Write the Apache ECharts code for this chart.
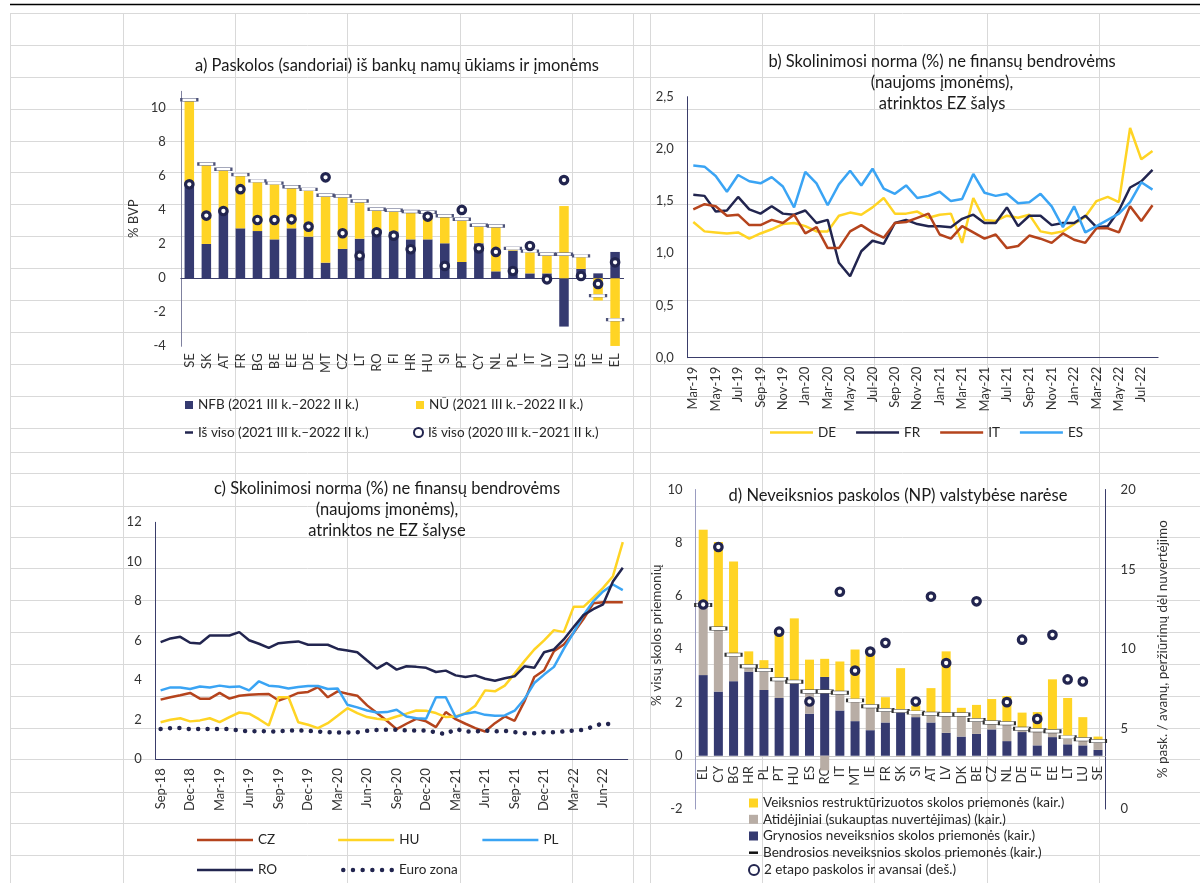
<!DOCTYPE html>
<html>
<head>
<meta charset="utf-8">
<script src="https://cdn.jsdelivr.net/npm/echarts@6/dist/echarts.min.js"></script>
<style>
  html, body { margin: 0; padding: 0; background: #fff; }
  #main { width: 1200px; height: 883px; }
</style>
</head>
<body>
<div id="main"></div>
<script>
// ---- a) loans by country ----
const aCountries = ['SE', 'SK', 'AT', 'FR', 'BG', 'BE', 'EE', 'DE', 'MT', 'CZ', 'LT', 'RO', 'FI', 'HR', 'HU', 'SI', 'PT', 'CY', 'NL', 'PL', 'IT', 'LV', 'LU', 'ES', 'IE', 'EL'];
const aNfb = [5.5, 2.02, 3.95, 2.94, 2.78, 2.29, 2.94, 2.45, 0.92, 1.73, 2.33, 2.88, 2.75, 2.29, 2.29, 2.06, 0.96, 2.06, 0.41, 1.63, 0.29, 0.29, -2.84, 0.55, 0.29, 1.55];
const aNu = [5.0, 4.7, 2.47, 3.16, 2.95, 3.31, 2.44, 2.78, 3.96, 3.11, 2.22, 1.18, 1.25, 1.64, 1.59, 1.62, 2.51, 1.06, 2.67, 0.13, 1.31, 1.12, 4.25, 0.77, -1.31, -3.98];
const aTotal = [10.5, 6.72, 6.42, 6.1, 5.73, 5.6, 5.38, 5.23, 4.88, 4.84, 4.55, 4.06, 4.0, 3.93, 3.88, 3.68, 3.47, 3.12, 3.08, 1.76, 1.6, 1.41, 1.41, 1.32, -1.02, -2.43];
const aPrev = [5.53, 3.69, 3.96, 5.24, 3.43, 3.43, 3.47, 3.04, 5.94, 2.65, 1.33, 2.71, 2.51, 1.71, 3.63, 0.73, 4.02, 1.76, 1.55, 0.43, 1.9, -0.06, 5.78, 0.14, -0.33, 0.94];

// ---- b) EA lending rates ----
const bMonths = ['Mar-19', 'Apr-19', 'May-19', 'Jun-19', 'Jul-19', 'Aug-19', 'Sep-19', 'Oct-19', 'Nov-19', 'Dec-19',
  'Jan-20', 'Feb-20', 'Mar-20', 'Apr-20', 'May-20', 'Jun-20', 'Jul-20', 'Aug-20', 'Sep-20', 'Oct-20', 'Nov-20', 'Dec-20',
  'Jan-21', 'Feb-21', 'Mar-21', 'Apr-21', 'May-21', 'Jun-21', 'Jul-21', 'Aug-21', 'Sep-21', 'Oct-21', 'Nov-21', 'Dec-21',
  'Jan-22', 'Feb-22', 'Mar-22', 'Apr-22', 'May-22', 'Jun-22', 'Jul-22', 'Aug-22'];
const bDE = [1.30, 1.21, 1.20, 1.19, 1.20, 1.14, 1.19, 1.23, 1.28, 1.29, 1.26, 1.21, 1.21, 1.36, 1.39, 1.37, 1.44, 1.53, 1.38, 1.38, 1.40, 1.34, 1.37, 1.38, 1.10, 1.53, 1.32, 1.31, 1.36, 1.34, 1.37, 1.21, 1.19, 1.21, 1.28, 1.35, 1.50, 1.54, 1.49, 2.20, 1.90, 1.98];
const bFR = [1.56, 1.55, 1.40, 1.41, 1.54, 1.42, 1.38, 1.45, 1.38, 1.37, 1.41, 1.29, 1.32, 0.91, 0.78, 1.02, 1.12, 1.09, 1.29, 1.32, 1.28, 1.26, 1.26, 1.25, 1.33, 1.37, 1.29, 1.29, 1.44, 1.26, 1.36, 1.36, 1.27, 1.29, 1.29, 1.36, 1.25, 1.26, 1.41, 1.63, 1.69, 1.80];
const bIT = [1.42, 1.47, 1.45, 1.36, 1.37, 1.27, 1.27, 1.32, 1.29, 1.37, 1.19, 1.25, 1.05, 1.05, 1.21, 1.27, 1.20, 1.15, 1.29, 1.30, 1.34, 1.38, 1.18, 1.14, 1.26, 1.20, 1.14, 1.18, 1.05, 1.07, 1.17, 1.14, 1.10, 1.19, 1.13, 1.10, 1.24, 1.24, 1.20, 1.45, 1.31, 1.46];
const bES = [1.84, 1.83, 1.74, 1.59, 1.75, 1.69, 1.67, 1.73, 1.64, 1.44, 1.78, 1.67, 1.46, 1.66, 1.79, 1.65, 1.81, 1.62, 1.57, 1.65, 1.53, 1.55, 1.59, 1.50, 1.52, 1.76, 1.58, 1.55, 1.57, 1.48, 1.49, 1.57, 1.45, 1.25, 1.45, 1.20, 1.26, 1.32, 1.38, 1.49, 1.68, 1.61];
const bTicks = ['0,0', '0,5', '1,0', '1,5', '2,0', '2,5'];

// ---- c) non-EA lending rates ----
const cMonths = ['Sep-18', 'Oct-18', 'Nov-18', 'Dec-18',
  'Jan-19', 'Feb-19', 'Mar-19', 'Apr-19', 'May-19', 'Jun-19', 'Jul-19', 'Aug-19', 'Sep-19', 'Oct-19', 'Nov-19', 'Dec-19',
  'Jan-20', 'Feb-20', 'Mar-20', 'Apr-20', 'May-20', 'Jun-20', 'Jul-20', 'Aug-20', 'Sep-20', 'Oct-20', 'Nov-20', 'Dec-20',
  'Jan-21', 'Feb-21', 'Mar-21', 'Apr-21', 'May-21', 'Jun-21', 'Jul-21', 'Aug-21', 'Sep-21', 'Oct-21', 'Nov-21', 'Dec-21',
  'Jan-22', 'Feb-22', 'Mar-22', 'Apr-22', 'May-22', 'Jun-22', 'Jul-22', 'Aug-22'];
const cCZ = [3.02, 3.14, 3.24, 3.36, 3.07, 3.07, 3.36, 3.07, 3.22, 3.27, 3.29, 3.31, 2.98, 3.15, 3.36, 3.41, 3.66, 3.14, 3.44, 3.32, 3.22, 2.73, 2.34, 1.95, 1.53, 1.80, 2.05, 1.92, 1.63, 2.39, 2.03, 1.80, 1.58, 1.41, 1.83, 2.17, 1.95, 2.93, 4.17, 4.51, 5.47, 5.81, 6.40, 7.10, 7.90, 7.95, 7.95, 7.95];
const cHU = [1.88, 2.00, 2.08, 1.92, 1.97, 2.08, 1.88, 2.14, 2.37, 2.31, 2.03, 1.71, 3.14, 3.14, 1.88, 1.75, 1.58, 1.83, 2.20, 2.59, 2.34, 2.14, 2.05, 2.00, 2.17, 2.31, 2.47, 2.46, 2.34, 2.14, 2.17, 2.34, 2.71, 3.49, 3.44, 3.73, 4.34, 4.97, 5.56, 6.02, 6.54, 6.44, 7.72, 7.72, 8.18, 8.68, 9.27, 11.0];
const cPL = [3.49, 3.64, 3.64, 3.56, 3.69, 3.64, 3.73, 3.66, 3.69, 3.49, 3.95, 3.73, 3.69, 3.58, 3.66, 3.71, 3.71, 3.56, 3.59, 2.76, 2.63, 2.47, 2.37, 2.39, 2.51, 2.17, 2.08, 2.05, 3.14, 3.14, 2.14, 2.31, 2.39, 2.25, 2.20, 2.22, 2.46, 3.05, 3.86, 4.29, 4.68, 5.59, 6.41, 7.30, 8.00, 8.50, 8.85, 8.57];
const cRO = [5.93, 6.12, 6.20, 5.90, 5.86, 6.27, 6.27, 6.27, 6.44, 6.03, 5.85, 5.64, 5.88, 5.93, 5.97, 5.80, 5.80, 5.80, 5.59, 5.51, 5.42, 5.00, 4.59, 4.88, 4.54, 4.71, 4.68, 4.63, 4.42, 4.49, 4.25, 4.17, 4.25, 4.08, 3.98, 4.10, 4.20, 4.71, 4.63, 5.42, 5.56, 6.07, 6.70, 7.30, 7.60, 7.85, 9.00, 9.70];
const cEZ = [1.53, 1.58, 1.58, 1.53, 1.53, 1.53, 1.53, 1.53, 1.46, 1.41, 1.44, 1.41, 1.41, 1.46, 1.46, 1.44, 1.41, 1.37, 1.36, 1.36, 1.37, 1.44, 1.49, 1.49, 1.49, 1.46, 1.46, 1.46, 1.37, 1.27, 1.54, 1.41, 1.41, 1.46, 1.41, 1.44, 1.37, 1.32, 1.32, 1.37, 1.37, 1.41, 1.46, 1.49, 1.66, 1.83, 1.75, null];

// ---- d) NPLs by member state ----
const dCountries = ['EL', 'CY', 'BG', 'HR', 'PL', 'PT', 'HU', 'ES', 'RO', 'IT', 'MT', 'IE', 'FR', 'SK', 'SI', 'AT', 'LV', 'DK', 'BE', 'CZ', 'NL', 'DE', 'FI', 'EE', 'LT', 'LU', 'SE'];
const dNet = [3.03, 2.41, 2.80, 3.16, 2.47, 2.17, 2.72, 1.58, 2.96, 1.70, 1.30, 0.96, 1.25, 1.72, 1.45, 1.25, 0.86, 0.72, 0.82, 0.99, 0.55, 0.89, 0.39, 0.70, 0.43, 0.39, 0.22];
const dProv = [2.63, 2.37, 0.99, 0.20, 0.75, 0.70, 0.06, 0.83, -0.55, 0.67, 0.78, 0.90, 0.47, -0.04, 0.17, 0.33, 0.69, 0.83, 0.52, 0.26, 0.67, 0.12, 0.57, 0.22, 0.27, 0.23, 0.33];
const dRestr = [2.83, 3.25, 3.51, 0.56, 0.37, 1.87, 2.38, 1.20, 0.68, 1.17, 1.91, 1.93, 0.48, 1.57, 0.26, 0.96, 2.37, 0.25, 0.57, 0.88, 1.02, 0.61, 0.68, 1.95, 1.47, 0.83, 0.17];
const dGross = [5.66, 4.78, 3.79, 3.36, 3.22, 2.87, 2.78, 2.41, 2.41, 2.37, 2.08, 1.86, 1.72, 1.68, 1.62, 1.58, 1.55, 1.55, 1.34, 1.25, 1.22, 1.01, 0.96, 0.92, 0.70, 0.62, 0.55];
const dStage2 = [12.8, 16.4, null, null, null, 11.1, null, 6.73, null, 13.6, 8.66, 9.85, 10.4, null, 6.73, 13.3, 9.14, null, 13.0, null, 6.69, 10.6, 5.64, 10.9, 8.11, 7.98, null];

// spreadsheet cell borders behind the charts
const SHEET_COLS = [10, 123, 235, 347, 460, 572, 633, 650, 762, 874, 987, 1099];
const SHEET_ROWS = [13, 45, 77, 109, 141, 172, 204, 236, 268, 300, 332, 364, 396, 428, 452, 473, 506, 537, 568, 600, 632, 664, 696, 728, 759, 792, 823, 855];

const FONT = 'Lato, "Open Sans", sans-serif';
const NAVY_BAR = '#353a70';
const NAVY = '#22254f';
const YELLOW = '#ffd424';
const TAN = '#b8ada5';
const RUST = '#b5441d';
const BLUE = '#3aa4f4';
const AXIS_NAVY = '#3a3d6a';
const LABEL = { color: '#333333', fontSize: 13, fontFamily: FONT };

function sheetGrid() {
  const els = [];
  SHEET_COLS.forEach((x) => {
    els.push({ type: 'line', silent: true, z: -10, shape: { x1: x + 0.5, y1: 13, x2: x + 0.5, y2: 883 }, style: { stroke: '#d9d9d9', lineWidth: 1 } });
  });
  SHEET_ROWS.forEach((y) => {
    els.push({ type: 'line', silent: true, z: -10, shape: { x1: 10, y1: y + 0.5, x2: 1200, y2: y + 0.5 }, style: { stroke: '#d9d9d9', lineWidth: 1 } });
  });
  els.push({ type: 'line', silent: true, z: -9, shape: { x1: 10, y1: 4.5, x2: 1200, y2: 4.5 }, style: { stroke: '#000', lineWidth: 1.5 } });
  return els;
}

// legend icon for the dotted euro area line: six round dots
function dotsIcon() {
  let p = 'path://';
  for (let k = 0; k < 6; k++) {
    const x = k * 9.7;
    p += `M${x},2.25a2.25,2.25 0 1,0 4.5,0a2.25,2.25 0 1,0 -4.5,0Z`;
  }
  return p;
}

function title(text, x, y) {
  return {
    text, left: x, top: y, textAlign: 'center', padding: 0,
    textStyle: { fontFamily: FONT, fontSize: 16.5, fontWeight: 'normal', color: '#1a1a1a', lineHeight: 21 }
  };
}

function legend(data, x, y, extra) {
  return Object.assign({
    data, left: x, top: y, padding: 0, itemGap: 20, selectedMode: false,
    textStyle: { fontFamily: FONT, fontSize: 13.5, color: '#262626', lineHeight: 14 }
  }, extra);
}

function lineSeries(name, data, color, xi, yi) {
  return {
    name, type: 'line', xAxisIndex: xi, yAxisIndex: yi, data,
    symbol: 'none', showSymbol: false, smooth: false,
    lineStyle: { color, width: 2.5 }, itemStyle: { color }
  };
}

const lineIcon = (name) => ({ name, icon: 'rect' });
const ringStyle = { color: '#fff', borderColor: NAVY, borderWidth: 3.2, opacity: 1 };

const option = {
  animation: false,
  textStyle: { fontFamily: FONT },
  graphic: sheetGrid(),
  title: [
    title('a) Paskolos (sandoriai) iš bankų namų ūkiams ir įmonėms', 397, 55.5),
    title('b) Skolinimosi norma (%) ne finansų bendrovėms\n(naujoms įmonėms),\natrinktos EZ šalys', 942, 51.5),
    title('c) Skolinimosi norma (%) ne finansų bendrovėms\n(naujoms įmonėms),\natrinktos ne EZ šalyse', 387, 478.5),
    title('d) Neveiksnios paskolos (NP) valstybėse narėse', 898, 485)
  ],
  legend: [
    legend([{ name: 'NFB (2021 III k.–2022 II k.)', icon: 'rect' }], 185, 398, { itemWidth: 8, itemHeight: 8 }),
    legend([{ name: 'NŪ (2021 III k.–2022 II k.)', icon: 'rect' }], 416, 398, { itemWidth: 8, itemHeight: 8 }),
    legend([{ name: 'Iš viso (2021 III k.–2022 II k.)', icon: 'rect', itemStyle: { color: NAVY, borderWidth: 0 } }], 185, 425.5, { itemWidth: 8, itemHeight: 2.5 }),
    legend([{ name: 'Iš viso (2020 III k.–2021 II k.)', icon: 'circle' }], 413, 425.5, { itemWidth: 9, itemHeight: 9 }),
    legend(['DE', 'FR', 'IT', 'ES'].map(lineIcon), 770, 425.5, { itemWidth: 43, itemHeight: 2.5, itemGap: 20 }),
    legend(['CZ', 'HU', 'PL'].map(lineIcon), 197, 833, { itemWidth: 56, itemHeight: 2.5, itemGap: 63 }),
    legend([lineIcon('RO')], 197, 863, { itemWidth: 56, itemHeight: 2.5 }),
    legend([{ name: 'Euro zona', icon: dotsIcon() }], 341, 863, { itemWidth: 53, itemHeight: 4.5 }),
    legend([{ name: 'Veiksnios restruktūrizuotos skolos priemonės (kair.)', icon: 'rect' }], 749, 796, { itemWidth: 9, itemHeight: 9 }),
    legend([{ name: 'Atidėjiniai (sukauptas nuvertėjimas) (kair.)', icon: 'rect' }], 749, 812.3, { itemWidth: 9, itemHeight: 9 }),
    legend([{ name: 'Grynosios neveiksnios skolos priemonės (kair.)', icon: 'rect' }], 749, 829, { itemWidth: 9, itemHeight: 9 }),
    legend([{ name: 'Bendrosios neveiksnios skolos priemonės (kair.)', icon: 'rect', itemStyle: { color: '#111', borderWidth: 0 } }], 749, 845.7, { itemWidth: 9, itemHeight: 2.5 }),
    legend([{ name: '2 etapo paskolos ir avansai (deš.)', icon: 'circle' }], 748, 863, { itemWidth: 10, itemHeight: 10 })
  ],
  grid: [
    { left: 180.8, top: 91.3, width: 442.8, height: 255, outerBoundsMode: 'none' },
    { left: 687.7, top: 96.7, width: 470.4, height: 261, outerBoundsMode: 'none' },
    { left: 155.7, top: 522.3, width: 472, height: 237, outerBoundsMode: 'none' },
    { left: 695.6, top: 489.5, width: 410, height: 319.5, outerBoundsMode: 'none' }
  ],
  xAxis: [
    // a: zero line
    {
      type: 'category', gridIndex: 0, data: aCountries,
      axisLine: { onZero: true, lineStyle: { color: AXIS_NAVY, width: 1 } },
      axisTick: { show: false }, axisLabel: { show: false }
    },
    // a: labels at the bottom
    {
      type: 'category', gridIndex: 0, data: aCountries, position: 'bottom',
      axisLine: { show: false, onZero: false }, axisTick: { show: false },
      axisLabel: Object.assign({ rotate: 90, interval: 0, margin: 7 }, LABEL)
    },
    {
      type: 'category', gridIndex: 1, data: bMonths,
      axisLine: { lineStyle: { color: AXIS_NAVY, width: 1 } }, axisTick: { show: false },
      axisLabel: Object.assign({ rotate: 90, interval: 1, margin: 9 }, LABEL)
    },
    {
      type: 'category', gridIndex: 2, data: cMonths,
      axisLine: { lineStyle: { color: AXIS_NAVY, width: 1 } }, axisTick: { show: false },
      axisLabel: Object.assign({ rotate: 90, interval: 2, margin: 9 }, LABEL)
    },
    // d: labels just under the zero line (the zero line itself is a markLine)
    {
      type: 'category', gridIndex: 3, data: dCountries, position: 'bottom',
      axisLine: { show: false, onZero: false }, axisTick: { show: false },
      axisLabel: Object.assign({ rotate: 90, interval: 0, margin: -43 }, LABEL)
    }
  ],
  yAxis: [
    {
      type: 'value', gridIndex: 0, min: -4, max: 11, interval: 2,
      name: '% BVP', nameLocation: 'middle', nameRotate: 90, nameGap: 40,
      nameTextStyle: { fontFamily: FONT, fontSize: 13, color: '#333' },
      axisLine: { show: true, lineStyle: { color: '#7f819f', width: 1 } },
      axisTick: { show: false }, splitLine: { show: false },
      axisLabel: Object.assign({ margin: 15, showMaxLabel: false, formatter: (v) => (v > 10 ? '' : String(v)) }, LABEL)
    },
    {
      type: 'value', gridIndex: 1, min: 0, max: 2.5, interval: 0.5,
      axisLine: { show: true, lineStyle: { color: AXIS_NAVY, width: 1 } },
      axisTick: { show: false }, splitLine: { show: false },
      axisLabel: Object.assign({ margin: 14, formatter: (v) => bTicks[Math.round(v / 0.5)] }, LABEL)
    },
    {
      type: 'value', gridIndex: 2, min: 0, max: 12, interval: 2,
      axisLine: { show: true, lineStyle: { color: AXIS_NAVY, width: 1 } },
      axisTick: { show: false }, splitLine: { show: false },
      axisLabel: Object.assign({ margin: 14 }, LABEL)
    },
    {
      type: 'value', gridIndex: 3, min: -2, max: 10, interval: 2, position: 'left',
      name: '% visų skolos priemonių', nameLocation: 'middle', nameRotate: 90, nameGap: 24,
      nameTextStyle: { fontFamily: FONT, fontSize: 13.5, color: '#333', padding: [0, 0, 0, 28] },
      axisLine: { show: true, lineStyle: { color: '#9a9cc0', width: 1 } },
      axisTick: { show: false }, splitLine: { show: false },
      axisLabel: Object.assign({ margin: 13 }, LABEL)
    },
    {
      type: 'value', gridIndex: 3, min: 0, max: 20, interval: 5, position: 'right',
      name: '% pask. / avanų, peržiūrimų dėl nuvertėjimo', nameLocation: 'middle', nameRotate: 90, nameGap: 50,
      nameTextStyle: { fontFamily: FONT, fontSize: 13.5, color: '#333' },
      axisLine: { show: true, lineStyle: { color: AXIS_NAVY, width: 1 } },
      axisTick: { show: false }, splitLine: { show: false },
      axisLabel: Object.assign({ margin: 15 }, LABEL)
    }
  ],
  series: [
    // a
    { name: 'NFB (2021 III k.–2022 II k.)', type: 'bar', xAxisIndex: 0, yAxisIndex: 0, stack: 'a', barWidth: 9.5, data: aNfb, itemStyle: { color: NAVY_BAR } },
    { name: 'NŪ (2021 III k.–2022 II k.)', type: 'bar', xAxisIndex: 0, yAxisIndex: 0, stack: 'a', barWidth: 9.5, data: aNu, itemStyle: { color: YELLOW } },
    {
      name: 'Iš viso (2021 III k.–2022 II k.)', type: 'scatter', xAxisIndex: 0, yAxisIndex: 0, data: aTotal, z: 5,
      symbol: 'rect', symbolSize: [16, 3], itemStyle: { color: '#fff', borderColor: '#4d5278', borderWidth: 1, opacity: 1 }
    },
    {
      name: 'Iš viso (2020 III k.–2021 II k.)', type: 'scatter', xAxisIndex: 0, yAxisIndex: 0, data: aPrev, z: 6,
      symbol: 'circle', symbolSize: 7.5, itemStyle: ringStyle
    },
    // b
    lineSeries('DE', bDE, YELLOW, 2, 1),
    lineSeries('FR', bFR, NAVY, 2, 1),
    lineSeries('IT', bIT, RUST, 2, 1),
    lineSeries('ES', bES, BLUE, 2, 1),
    // c
    lineSeries('CZ', cCZ, RUST, 3, 2),
    lineSeries('HU', cHU, YELLOW, 3, 2),
    lineSeries('PL', cPL, BLUE, 3, 2),
    lineSeries('RO', cRO, NAVY, 3, 2),
    {
      name: 'Euro zona', type: 'line', xAxisIndex: 3, yAxisIndex: 2, data: cEZ,
      symbol: 'none', showSymbol: false,
      lineStyle: { color: NAVY, width: 4.5, type: [0.01, 9.4], cap: 'round' }, itemStyle: { color: NAVY }
    },
    // d
    {
      name: 'Grynosios neveiksnios skolos priemonės (kair.)', type: 'bar', xAxisIndex: 4, yAxisIndex: 3, stack: 'd', barWidth: 9, data: dNet, itemStyle: { color: NAVY_BAR },
      markLine: {
        silent: true, symbol: 'none', label: { show: false }, z: 1,
        lineStyle: { color: '#c6c6c6', width: 1, type: 'solid' },
        data: [{ yAxis: 0 }]
      }
    },
    { name: 'Atidėjiniai (sukauptas nuvertėjimas) (kair.)', type: 'bar', xAxisIndex: 4, yAxisIndex: 3, stack: 'd', barWidth: 9, data: dProv, itemStyle: { color: TAN } },
    { name: 'Veiksnios restruktūrizuotos skolos priemonės (kair.)', type: 'bar', xAxisIndex: 4, yAxisIndex: 3, stack: 'd', barWidth: 9, data: dRestr, itemStyle: { color: YELLOW } },
    {
      name: 'Bendrosios neveiksnios skolos priemonės (kair.)', type: 'scatter', xAxisIndex: 4, yAxisIndex: 3, data: dGross, z: 5,
      symbol: 'rect', symbolSize: [16, 3.5], itemStyle: { color: '#fff', borderColor: '#333', borderWidth: 1, opacity: 1 }
    },
    {
      name: '2 etapo paskolos ir avansai (deš.)', type: 'scatter', xAxisIndex: 4, yAxisIndex: 4, data: dStage2, z: 6,
      symbol: 'circle', symbolSize: 7.5, itemStyle: ringStyle
    }
  ]
};

const myChart = echarts.init(document.getElementById('main'), null, { renderer: 'canvas' });
myChart.setOption(option);
</script>
</body>
</html>
